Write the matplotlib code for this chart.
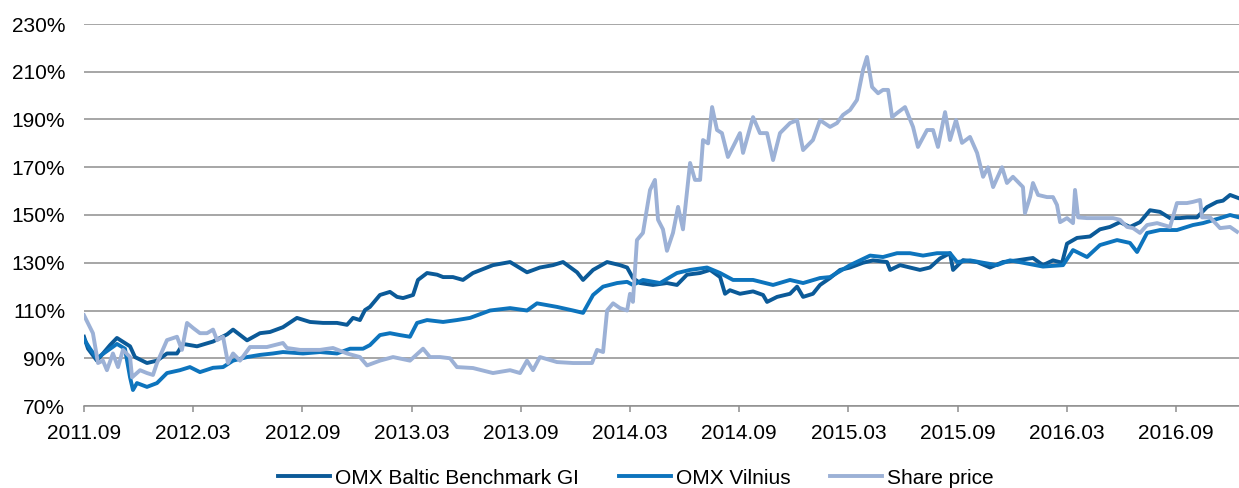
import matplotlib
matplotlib.use('Agg')

import matplotlib.pyplot as plt
from matplotlib.ticker import FixedLocator, FuncFormatter

plt.rcParams['font.family'] = ['Liberation Sans', 'DejaVu Sans']

# x values are months since 2011.09, y values in %
bench_t = [0.00, 0.22, 0.71, 1.43, 1.81, 2.53, 2.80, 3.46, 4.01, 4.56, 5.11, 5.44,
           6.21, 7.09, 7.86, 8.19, 8.96, 9.67, 10.22, 10.93, 11.70, 12.42, 13.13, 13.90,
           14.45, 14.78, 15.16, 15.44, 15.71, 16.26, 16.81, 17.20, 17.53, 18.08, 18.35, 18.85,
           19.40, 19.73, 20.27, 20.82, 21.37, 22.47, 23.41, 24.34, 25.05, 25.77, 26.32, 27.09,
           27.42, 27.97, 28.74, 29.45, 29.84, 30.16, 30.55, 31.26, 32.03, 32.58, 33.13, 33.85,
           34.40, 34.95, 35.22, 35.49, 36.04, 36.76, 37.31, 37.53, 38.08, 38.79, 39.18, 39.51,
           40.05, 40.44, 40.99, 41.54, 42.09, 42.80, 43.35, 44.12, 44.29, 44.84, 45.38, 45.93,
           46.48, 47.03, 47.58, 47.75, 48.30, 49.07, 49.78, 50.49, 51.26, 52.14, 52.69, 53.24,
           53.74, 54.01, 54.56, 55.27, 55.82, 56.37, 56.92, 57.47, 58.02, 58.57, 59.12, 59.67,
           60.22, 60.60, 61.15, 61.70, 62.25, 62.58, 62.97, 63.46]
bench_v = [99.0, 94.0, 89.0, 95.5, 98.5, 95.0, 90.5, 88.0, 89.0, 92.0, 92.0, 96.0,
           95.0, 97.0, 100.0, 102.0, 97.5, 100.5, 101.0, 103.0, 106.9, 105.2, 104.8, 104.8,
           104.0, 106.9, 106.0, 110.2, 111.5, 116.5, 117.8, 115.7, 115.2, 116.5, 122.8, 125.7,
           125.0, 124.0, 124.0, 122.8, 125.7, 129.0, 130.3, 126.0, 128.0, 129.0, 130.3, 126.0,
           122.8, 127.0, 130.3, 129.0, 128.0, 123.6, 121.5, 120.7, 121.5, 120.7, 125.0, 125.7,
           127.0, 124.0, 117.0, 118.5, 117.0, 118.0, 116.5, 113.6, 115.7, 117.0, 120.0, 115.7,
           117.0, 120.7, 123.6, 127.0, 128.0, 130.0, 131.0, 130.3, 127.0, 129.0, 128.0, 127.0,
           128.0, 131.8, 134.0, 127.0, 131.1, 130.3, 128.0, 130.3, 131.0, 132.0, 129.0, 131.0,
           130.0, 138.0, 140.4, 141.0, 144.0, 145.0, 147.0, 145.0, 147.0, 152.0, 151.3, 148.7,
           148.7, 149.0, 149.0, 153.3, 155.5, 156.0, 158.4, 157.0]

vilnius_t = [0.00, 0.33, 0.71, 1.26, 1.81, 2.25, 2.53, 2.69, 2.91, 3.46, 4.01, 4.56,
             5.27, 5.82, 6.37, 7.09, 7.64, 8.19, 8.96, 9.67, 10.38, 10.93, 12.03, 12.97,
             13.90, 14.62, 15.33, 15.71, 16.26, 16.81, 17.36, 17.91, 18.30, 18.85, 19.73, 20.49,
             21.21, 22.31, 23.41, 24.34, 24.89, 25.99, 26.87, 27.42, 27.97, 28.52, 29.29, 29.84,
             30.16, 30.71, 31.65, 32.58, 33.30, 34.23, 34.95, 35.66, 36.76, 37.86, 38.79, 39.51,
             40.44, 40.99, 42.09, 43.19, 43.90, 44.67, 45.38, 46.10, 46.87, 47.58, 47.97, 48.68,
             49.40, 50.16, 50.88, 51.59, 52.69, 53.79, 54.34, 55.11, 55.82, 56.76, 57.47, 57.86,
             58.41, 59.12, 60.05, 60.93, 61.48, 62.42, 62.97, 63.46]
vilnius_v = [98.0, 94.0, 90.0, 93.0, 96.0, 94.0, 82.0, 76.7, 79.6, 78.0, 79.6, 83.8,
             85.0, 86.3, 84.2, 86.0, 86.3, 89.0, 90.5, 91.4, 92.0, 92.6, 92.0, 92.6,
             92.0, 94.0, 94.0, 95.5, 99.7, 100.5, 99.7, 99.0, 104.8, 106.0, 105.2, 106.0,
             106.9, 110.0, 111.0, 110.0, 113.0, 111.5, 110.0, 109.0, 116.5, 120.0, 121.5, 122.0,
             120.7, 122.8, 121.5, 125.7, 127.0, 128.0, 125.7, 122.8, 122.8, 120.7, 122.8, 121.5,
             123.6, 124.0, 129.0, 133.0, 132.4, 134.0, 134.0, 133.0, 134.0, 134.0, 130.3, 131.0,
             130.0, 129.0, 131.0, 130.0, 128.4, 129.0, 135.3, 132.4, 137.4, 139.5, 138.3, 134.5,
             142.5, 143.7, 143.7, 145.8, 146.6, 148.7, 150.0, 149.0]

share_t = [0.00, 0.22, 0.49, 0.77, 1.04, 1.26, 1.59, 1.87, 2.14, 2.53, 2.64, 3.08,
           3.46, 3.79, 4.01, 4.56, 5.11, 5.38, 5.66, 5.99, 6.37, 6.76, 7.09, 7.31,
           7.64, 7.91, 8.19, 8.57, 9.12, 10.05, 10.93, 11.15, 11.87, 12.97, 13.68, 14.45,
           15.16, 15.55, 16.26, 16.98, 17.91, 18.63, 19.01, 19.56, 20.11, 20.49, 21.37, 22.47,
           23.41, 23.96, 24.34, 24.67, 25.05, 25.99, 26.87, 27.64, 27.91, 28.19, 28.52, 28.74,
           29.07, 29.45, 29.84, 30.00, 30.16, 30.38, 30.71, 31.10, 31.37, 31.54, 31.81, 32.03,
           32.36, 32.64, 32.91, 33.30, 33.57, 33.85, 34.01, 34.29, 34.51, 34.78, 35.05, 35.38,
           35.66, 36.04, 36.21, 36.76, 37.14, 37.53, 37.86, 38.24, 38.79, 39.18, 39.51, 40.05,
           40.44, 40.99, 41.37, 41.70, 42.09, 42.47, 42.80, 43.02, 43.30, 43.63, 43.90, 44.18,
           44.40, 44.67, 45.11, 45.55, 45.82, 46.32, 46.65, 46.92, 47.31, 47.58, 47.91, 48.24,
           48.68, 49.07, 49.40, 49.67, 49.95, 50.44, 50.71, 51.04, 51.59, 51.70, 51.98, 52.14,
           52.42, 52.91, 53.24, 53.46, 53.63, 54.01, 54.34, 54.45, 54.62, 55.11, 55.82, 56.54,
           56.92, 57.31, 57.64, 58.02, 58.41, 58.96, 59.67, 60.05, 60.60, 60.93, 61.32, 61.43,
           61.87, 62.42, 62.97, 63.35]
share_v = [108.0, 104.6, 100.5, 88.0, 89.0, 85.0, 92.0, 86.3, 93.5, 90.5, 82.0, 85.0,
           83.8, 83.0, 88.0, 97.6, 99.0, 93.5, 104.8, 102.7, 100.5, 100.5, 102.0, 97.6,
           99.0, 88.0, 92.0, 89.0, 94.7, 94.7, 96.4, 94.3, 93.5, 93.5, 94.3, 92.0,
           90.5, 87.0, 89.0, 90.5, 89.0, 94.0, 90.5, 90.5, 90.0, 86.3, 85.9, 83.8,
           85.0, 83.8, 89.0, 85.0, 90.5, 88.4, 88.0, 88.0, 88.0, 93.5, 92.6, 110.0,
           113.0, 111.0, 110.0, 117.0, 113.6, 139.5, 142.5, 160.5, 164.7, 148.0, 144.0, 135.0,
           142.5, 153.4, 144.0, 171.8, 164.7, 164.7, 181.4, 180.0, 195.2, 185.6, 184.3, 174.3,
           178.5, 184.3, 176.0, 191.0, 184.3, 184.3, 173.0, 184.3, 188.5, 189.7, 177.2, 181.4,
           189.7, 186.9, 188.5, 191.9, 194.0, 198.2, 210.7, 216.2, 203.6, 201.0, 202.4, 202.4,
           191.0, 192.7, 195.2, 186.9, 178.5, 185.6, 185.6, 178.5, 193.1, 181.4, 189.8, 180.2,
           182.7, 176.0, 166.0, 170.0, 161.7, 170.0, 163.4, 166.0, 161.7, 150.8, 157.5, 163.4,
           158.4, 157.5, 157.5, 154.2, 147.0, 148.7, 146.6, 160.5, 149.0, 148.7, 148.7, 148.7,
           148.0, 145.0, 144.5, 142.5, 145.8, 146.6, 145.0, 155.0, 155.0, 155.5, 156.3, 149.0,
           149.0, 144.5, 145.0, 143.0]

tick_months = [0, 6, 12, 18, 24, 30, 36, 42, 48, 54, 60]
tick_labels = ['2011.09', '2012.03', '2012.09', '2013.03', '2013.09', '2014.03',
               '2014.09', '2015.03', '2015.09', '2016.03', '2016.09']
y_ticks = [70, 90, 110, 130, 150, 170, 190, 210, 230]

series = [
    ('OMX Baltic Benchmark GI', bench_t, bench_v, '#0B5A98'),
    ('OMX Vilnius', vilnius_t, vilnius_v, '#0D74BD'),
    ('Share price', share_t, share_v, '#9CB1D6'),
]

fig = plt.figure(figsize=(12.39, 4.88), dpi=100)
ax = fig.add_axes([84 / 1239, 82 / 488, 1155 / 1239, 382 / 488])

for name, t, v, color in series:
    ax.plot(t, v, color=color, linewidth=2.8, label=name, solid_joinstyle='round')

ax.set_xlim(0, 63.46)
ax.set_ylim(70, 230)

ax.yaxis.set_major_locator(FixedLocator(y_ticks))
ax.yaxis.set_major_formatter(FuncFormatter(lambda v, p: f'{int(v)}%'))
ax.xaxis.set_major_locator(FixedLocator(tick_months))
ax.set_xticklabels(tick_labels)

ax.grid(axis='y', color='#8E8E8E', linewidth=1.1)
ax.set_axisbelow(True)
for s in ['left', 'right', 'top']:
    ax.spines[s].set_visible(False)
ax.spines['bottom'].set_color('#8E8E8E')
ax.spines['bottom'].set_linewidth(1.1)

ax.tick_params(axis='y', length=0, pad=13.5, labelsize=15, colors='black')
ax.tick_params(axis='x', length=4.5, width=1.1, color='#8E8E8E', pad=8.5,
               labelsize=15, labelcolor='black', direction='out')

fig.legend(loc='center', bbox_to_anchor=(636 / 1239, 10 / 488), ncol=3,
           frameon=False, fontsize=15, handlelength=2.5, handletextpad=0.25,
           columnspacing=1.9, borderpad=0)

fig.savefig('out.png', dpi=100)
plt.close(fig)
